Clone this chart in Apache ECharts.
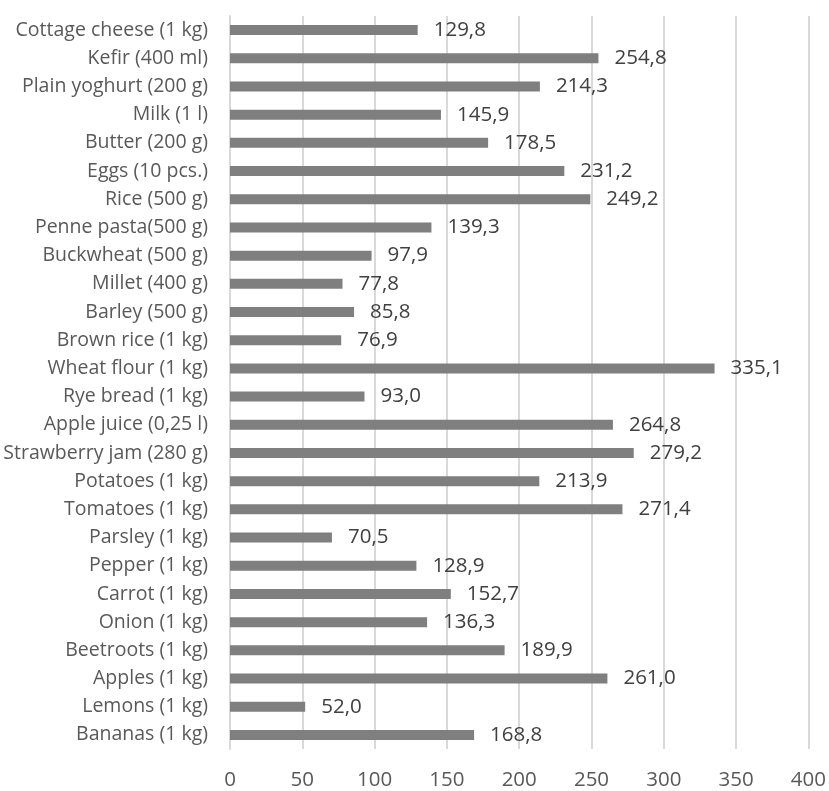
<!DOCTYPE html>
<html>
<head>
<meta charset="utf-8">
<style>
  html, body { margin: 0; padding: 0; background: #ffffff; }
  #chart { width: 829px; height: 791px; }
</style>
<script src="https://cdn.jsdelivr.net/npm/echarts@6/dist/echarts.min.js"></script>
</head>
<body>
<div id="chart"></div>
<script>
// Products, listed from top to bottom
const categories = [
  'Cottage cheese (1 kg)', 'Kefir (400 ml)', 'Plain yoghurt (200 g)', 'Milk (1 l)',
  'Butter (200 g)', 'Eggs (10 pcs.)', 'Rice (500 g)', 'Penne pasta(500 g)',
  'Buckwheat (500 g)', 'Millet (400 g)', 'Barley (500 g)', 'Brown rice (1 kg)',
  'Wheat flour (1 kg)', 'Rye bread (1 kg)', 'Apple juice (0,25 l)', 'Strawberry jam (280 g)',
  'Potatoes (1 kg)', 'Tomatoes (1 kg)', 'Parsley (1 kg)', 'Pepper (1 kg)',
  'Carrot (1 kg)', 'Onion (1 kg)', 'Beetroots (1 kg)', 'Apples (1 kg)',
  'Lemons (1 kg)', 'Bananas (1 kg)'
];

// Values in the same order as the categories
const values = [
  129.8, 254.8, 214.3, 145.9,
  178.5, 231.2, 249.2, 139.3,
  97.9, 77.8, 85.8, 76.9,
  335.1, 93.0, 264.8, 279.2,
  213.9, 271.4, 70.5, 128.9,
  152.7, 136.3, 189.9, 261.0,
  52.0, 168.8
];

const axisMin = 0;
const axisMax = 400;
const axisStep = 50;

const FONT = '"Open Sans", "Noto Sans", sans-serif';

const chart = echarts.init(document.getElementById('chart'), null, { renderer: 'canvas' });

chart.setOption({
  animation: false,
  backgroundColor: '#ffffff',
  grid: { left: 230, right: 19, top: 16, bottom: 41, containLabel: false },
  xAxis: {
    type: 'value',
    min: axisMin,
    max: axisMax,
    interval: axisStep,
    axisLine: { show: false },
    axisTick: { show: false },
    splitLine: { show: true, lineStyle: { color: '#d9d9d9', width: 2 } },
    axisLabel: {
      color: '#595959',
      fontFamily: FONT,
      fontSize: 20.5,
      margin: 21
    }
  },
  yAxis: {
    type: 'category',
    data: categories,
    inverse: true,
    axisLine: { show: true, lineStyle: { color: '#d9d9d9', width: 2 } },
    axisTick: { show: false },
    axisLabel: {
      color: '#595959',
      fontFamily: FONT,
      fontSize: 19.5,
      margin: 22
    }
  },
  series: [{
    type: 'bar',
    data: values,
    barWidth: 10,
    itemStyle: { color: '#7f7f7f' },
    label: {
      show: true,
      position: 'right',
      distance: 16,
      color: '#404040',
      fontFamily: FONT,
      fontSize: 20.5,
      formatter: p => p.value.toFixed(1).replace('.', ',')
    }
  }]
});
</script>
</body>
</html>
